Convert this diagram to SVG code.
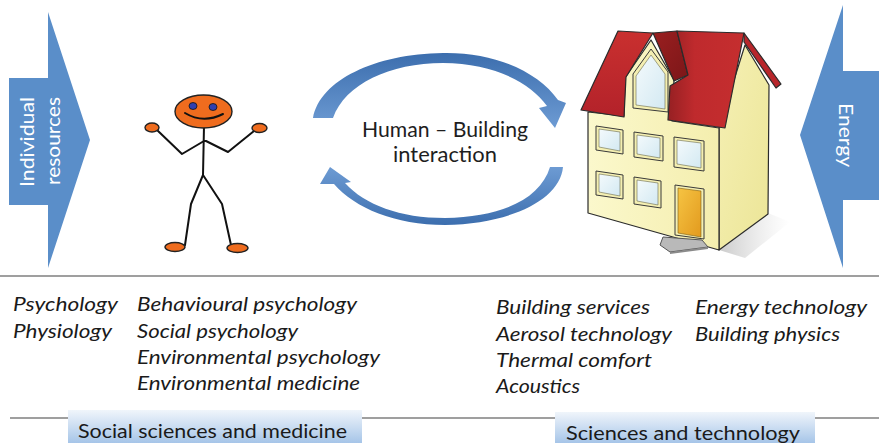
<svg xmlns="http://www.w3.org/2000/svg" width="879" height="443" viewBox="0 0 879 443">
  <defs>
    <style>
      .side-arrow { fill: #5a8ec9; }
      .side-text { font-family: Lato, "Open Sans", "Liberation Sans", sans-serif; font-size: 20px; fill: #ffffff; }
      .center-text { font-family: Lato, "Open Sans", "Liberation Sans", sans-serif; font-size: 20.5px; fill: #1e1e1e; }
      .item { font-family: Lato, "Open Sans", "Liberation Sans", sans-serif; font-style: italic; font-size: 19.5px; fill: #1a1a1a; }
      .label { font-family: Lato, "Open Sans", "Liberation Sans", sans-serif; font-size: 19.5px; fill: #1a1a1a; }
      .rule { stroke: #7f7f7f; stroke-width: 1.5; fill: none; }
      .limb { stroke: #111; stroke-width: 2; fill: none; stroke-linejoin: round; stroke-linecap: round; }
      .orange { fill: #ef6c1e; stroke: #222; stroke-width: 1.4; }
      .eye { fill: #2f3fb0; stroke: #111; stroke-width: 0.8; }
      .edge { stroke: #2b2b2b; stroke-width: 1.2; stroke-linejoin: round; }
      .frame { fill: #f4efb2; stroke: #3a3a3a; stroke-width: 1; }
      .glass { fill: url(#glassGrad); stroke: #6a6a4a; stroke-width: 0.6; }
    </style>
    <linearGradient id="loopGrad" x1="0" y1="0" x2="0" y2="1">
      <stop offset="0" stop-color="#3c6eae"/>
      <stop offset="1" stop-color="#6d9bd3"/>
    </linearGradient>
    <linearGradient id="loopGrad2" x1="0" y1="1" x2="0" y2="0">
      <stop offset="0" stop-color="#3c6eae"/>
      <stop offset="1" stop-color="#6d9bd3"/>
    </linearGradient>
    <linearGradient id="boxGrad" x1="0" y1="0" x2="0" y2="1">
      <stop offset="0" stop-color="#f0f5fb"/>
      <stop offset="1" stop-color="#a6c5e8"/>
    </linearGradient>
    <linearGradient id="frontWall" x1="0" y1="0" x2="1" y2="0">
      <stop offset="0" stop-color="#fbf8cc"/>
      <stop offset="1" stop-color="#f4eeae"/>
    </linearGradient>
    <linearGradient id="sideWall" x1="0" y1="0" x2="1" y2="1">
      <stop offset="0" stop-color="#f5f0b4"/>
      <stop offset="1" stop-color="#ece597"/>
    </linearGradient>
    <linearGradient id="roofGrad" x1="0" y1="0" x2="0" y2="1">
      <stop offset="0" stop-color="#c9302f"/>
      <stop offset="1" stop-color="#b3222a"/>
    </linearGradient>
    <linearGradient id="roofRight" x1="0" y1="0" x2="1" y2="0">
      <stop offset="0" stop-color="#962023"/>
      <stop offset="0.35" stop-color="#bf2a2d"/>
      <stop offset="1" stop-color="#c52e2f"/>
    </linearGradient>
    <linearGradient id="dormerSide" x1="0" y1="0" x2="1" y2="1">
      <stop offset="0" stop-color="#9a1f20"/>
      <stop offset="1" stop-color="#7c1618"/>
    </linearGradient>
    <linearGradient id="glassGrad" x1="0" y1="0" x2="1" y2="1">
      <stop offset="0" stop-color="#f4fafc"/>
      <stop offset="1" stop-color="#d3e9f2"/>
    </linearGradient>
    <linearGradient id="doorGrad" x1="0" y1="0" x2="1" y2="1">
      <stop offset="0" stop-color="#f6c443"/>
      <stop offset="1" stop-color="#e29a1e"/>
    </linearGradient>
    <linearGradient id="shadowGrad" x1="0" y1="0" x2="1" y2="0">
      <stop offset="0" stop-color="#8a8a8a" stop-opacity="0.45"/>
      <stop offset="1" stop-color="#bbbbbb" stop-opacity="0"/>
    </linearGradient>
  </defs>

  <rect width="879" height="443" fill="#ffffff"/>

  <!-- incoming resource arrow, left -->
  <g id="individual-resources">
    <polygon class="side-arrow" points="9,78 48,78 48,12 90,140 48,268 48,205 9,205"/>
    <text class="side-text" transform="translate(34,142) rotate(-90)" text-anchor="middle" textLength="90" lengthAdjust="spacingAndGlyphs">Individual</text>
    <text class="side-text" transform="translate(60,141) rotate(-90)" text-anchor="middle" textLength="88" lengthAdjust="spacingAndGlyphs">resources</text>
  </g>

  <!-- incoming energy arrow, right -->
  <g id="energy">
    <polygon class="side-arrow" points="879,71 843,71 843,5 800,135 843,268 843,200 879,200"/>
    <text class="side-text" transform="translate(839,135) rotate(90)" text-anchor="middle" textLength="64" lengthAdjust="spacingAndGlyphs">Energy</text>
  </g>

  <!-- stick figure -->
  <g id="human">
    <polyline class="limb" points="157,130 182,154 204,141 206,141 228,152 254,131"/>
    <line class="limb" x1="204" y1="126" x2="203" y2="175"/>
    <polyline class="limb" points="185,245 191,204 203,175 222,204 231,245"/>
    <ellipse class="orange" cx="203.5" cy="111.5" rx="28.5" ry="16.5"/>
    <ellipse class="eye" cx="193" cy="106" rx="4" ry="3.5"/>
    <ellipse class="eye" cx="213" cy="107" rx="4" ry="3.5"/>
    <path class="limb" d="M185,113 Q203,124 223,114"/>
    <ellipse class="orange" cx="152" cy="127.5" rx="7" ry="4.5"/>
    <ellipse class="orange" cx="259.5" cy="128" rx="7.5" ry="4.5"/>
    <ellipse class="orange" cx="175" cy="247" rx="10" ry="4.5"/>
    <ellipse class="orange" cx="237.5" cy="248" rx="10.5" ry="4.5"/>
  </g>

  <!-- interaction loop -->
  <g id="connectors">
    <path fill="url(#loopGrad)" d="M313,118 C320,80 375,54 443,53 C495,52 538,72 558,100 L566,103 L555,128 L539,108 L547,106 C530,82 492,63 443,63 C390,63 345,84 333,118 Z"/>
    <path fill="url(#loopGrad2)" d="M563,167 C560,200 510,224 445,225 C395,225 355,208 334,184 L320,184 L330,167 L351,182 L345,183 C365,205 400,218 445,218 C500,217 540,200 550,167 Z"/>
  </g>

  <g id="interaction">
    <text class="center-text" x="445" y="137" text-anchor="middle" textLength="166" lengthAdjust="spacingAndGlyphs">Human – Building</text>
    <text class="center-text" x="445" y="162" text-anchor="middle" textLength="104" lengthAdjust="spacingAndGlyphs">interaction</text>
  </g>

  <!-- house -->
  <g id="building">
    <polygon fill="url(#shadowGrad)" points="719,250 768,213 790,222 745,258"/>
    <polygon class="edge" fill="url(#sideWall)" points="719,128 745,45 769,85 768,214 719,250"/>
    <polygon class="edge" fill="url(#frontWall)" points="588,112 624,116 625,78 651,40 674,80 672,121 719,128 719,250 588,213"/>
    <!-- roof -->
    <polygon class="edge" fill="url(#roofGrad)" points="581,110 618,31 653,33 626,77 624,117"/>
    <polygon class="edge" fill="url(#dormerSide)" points="653,33 677,31 688,75 674,81"/>
    <polygon class="edge" fill="url(#roofRight)" points="677,31 744,33 725,128 668,120 670,86 688,75"/>
    <polygon class="edge" fill="#b8262b" points="744,33 781,84 776,88 744,42"/>
    <!-- dormer window -->
    <polygon class="frame" points="633,74 651,49 668,72 668,112 633,108"/>
    <polygon class="glass" points="636,76 651,55 665,74 665,109 636,105"/>
    <!-- windows -->
    <polygon class="frame" points="596,126 623,130 623,154 596,150"/>
    <polygon class="glass" points="599,129 620,132 620,151 599,147"/>
    <polygon class="frame" points="634,132 663,136 663,161 634,157"/>
    <polygon class="glass" points="637,135 660,138 660,158 637,154"/>
    <polygon class="frame" points="674,137 704,141 704,171 674,167"/>
    <polygon class="glass" points="677,140 701,143 701,168 677,164"/>
    <polygon class="frame" points="596,171 623,175 623,199 596,195"/>
    <polygon class="glass" points="599,174 620,177 620,196 599,192"/>
    <polygon class="frame" points="634,177 661,181 661,208 634,204"/>
    <polygon class="glass" points="637,180 658,183 658,205 637,201"/>
    <!-- door and step -->
    <polygon class="frame" points="675,185 704,189 704,239 675,235"/>
    <polygon fill="url(#doorGrad)" stroke="#7a5a10" stroke-width="0.6" points="678,188 701,191 701,237 678,233"/>
    <polygon fill="#b9b9b9" stroke="#555" stroke-width="1" points="663,237 702,240 708,247 670,252 660,245"/>
    <polygon fill="#8a8a8a" points="670,252 708,247 708,249 670,254"/>
  </g>

  <!-- separators -->
  <g id="rules">
    <line class="rule" x1="0" y1="276" x2="879" y2="276"/>
    <line class="rule" x1="10" y1="418" x2="68" y2="418"/>
    <line class="rule" x1="362" y1="418" x2="555" y2="418"/>
    <line class="rule" x1="815" y1="418" x2="879" y2="418"/>
  </g>

  <!-- human-side disciplines -->
  <g id="human-disciplines">
    <text class="item" x="13" y="311" textLength="105" lengthAdjust="spacingAndGlyphs">Psychology</text>
    <text class="item" x="13" y="338" textLength="99" lengthAdjust="spacingAndGlyphs">Physiology</text>
    <text class="item" x="137" y="311" textLength="220" lengthAdjust="spacingAndGlyphs">Behavioural psychology</text>
    <text class="item" x="137" y="338" textLength="161" lengthAdjust="spacingAndGlyphs">Social psychology</text>
    <text class="item" x="137" y="364" textLength="243" lengthAdjust="spacingAndGlyphs">Environmental psychology</text>
    <text class="item" x="137" y="390" textLength="223" lengthAdjust="spacingAndGlyphs">Environmental medicine</text>
  </g>

  <!-- building-side disciplines -->
  <g id="building-disciplines">
    <text class="item" x="496" y="314" textLength="154" lengthAdjust="spacingAndGlyphs">Building services</text>
    <text class="item" x="496" y="341" textLength="176" lengthAdjust="spacingAndGlyphs">Aerosol technology</text>
    <text class="item" x="496" y="367" textLength="156" lengthAdjust="spacingAndGlyphs">Thermal comfort</text>
    <text class="item" x="496" y="393" textLength="84" lengthAdjust="spacingAndGlyphs">Acoustics</text>
    <text class="item" x="695" y="314" textLength="172" lengthAdjust="spacingAndGlyphs">Energy technology</text>
    <text class="item" x="695" y="341" textLength="145" lengthAdjust="spacingAndGlyphs">Building physics</text>
  </g>

  <!-- field labels -->
  <g id="social-sciences">
    <rect x="68" y="410" width="294" height="33" fill="url(#boxGrad)"/>
    <text class="label" x="78" y="438" textLength="269" lengthAdjust="spacingAndGlyphs">Social sciences and medicine</text>
  </g>
  <g id="sciences-technology">
    <rect x="555" y="412" width="260" height="31" fill="url(#boxGrad)"/>
    <text class="label" x="566" y="440" textLength="234" lengthAdjust="spacingAndGlyphs">Sciences and technology</text>
  </g>
</svg>
